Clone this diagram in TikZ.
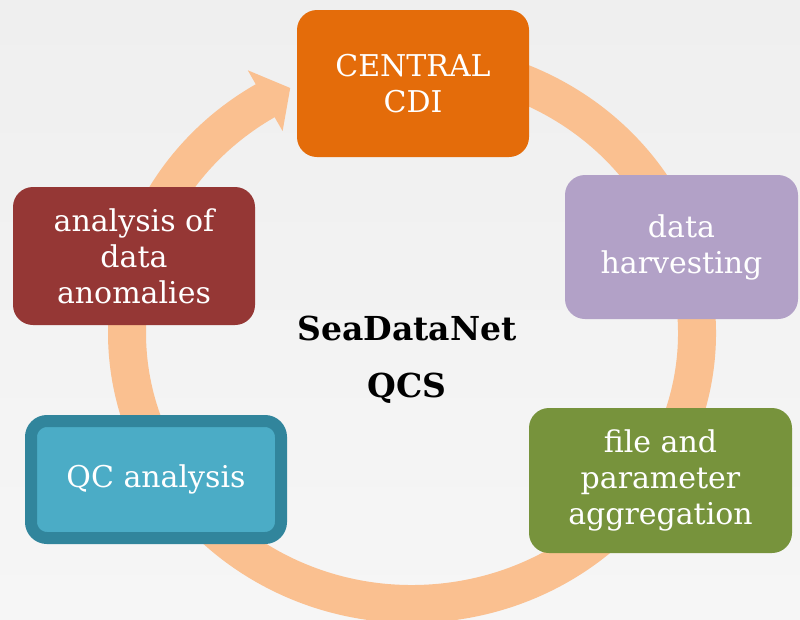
\documentclass[tikz,border=0pt]{standalone}
\usepackage{fontspec}
\setmainfont{DejaVu Serif}
\newfontfamily\titlefont{DejaVu Serif}
\definecolor{bgtop}{HTML}{EFEFEF}
\definecolor{bgbot}{HTML}{F6F6F6}
\definecolor{ringcol}{HTML}{FAC090}
\definecolor{cOrange}{HTML}{E46C0A}
\definecolor{cRed}{HTML}{953735}
\definecolor{cPurple}{HTML}{B2A1C7}
\definecolor{cGreen}{HTML}{77933C}
\definecolor{cBlue}{HTML}{4BACC6}
\definecolor{cBlueDark}{HTML}{31859C}
\begin{document}
\begin{tikzpicture}[x=1pt,y=-1pt,
  boxstyle/.style={rounded corners=20pt, inner sep=0pt, align=center,
    text=white, font=\fontsize{30}{36}\selectfont},
  ringline/.style={draw=ringcol, line width=38pt, line cap=butt}]
\useasboundingbox (0,0) rectangle (800,619);
\fill[top color=bgtop, bottom color=bgbot] (0,0) rectangle (800,619);
% ring
\coordinate (C) at (412,333);
\draw[ringline] (C) ++(-95:285 and 271) arc[start angle=-95, end angle=239.5, x radius=285, y radius=271];
\fill[ringcol] (247.8,70.3) -- (290.2,88) -- (282.6,131.1) -- cycle;
% boxes
\node[boxstyle, fill=cOrange, minimum width=232pt, minimum height=147pt] (central) at (413,83.5) {CENTRAL\\CDI};
\node[boxstyle, fill=cPurple, minimum width=233pt, minimum height=144pt] (harv) at (681.5,247) {data\\harvesting};
\node[boxstyle, fill=cGreen, minimum width=263pt, minimum height=145pt] (file) at (660.5,480.5) {file and\\parameter\\aggregation};
\node[boxstyle, fill=cBlue, draw=cBlueDark, line width=12pt, rounded corners=16pt, minimum width=250pt, minimum height=117pt] (qc) at (156,479.5) {QC analysis};
\node[boxstyle, fill=cRed, minimum width=242pt, minimum height=138pt] (anom) at (134,256) {analysis of\\data\\anomalies};
% title
\node[align=center, font=\titlefont\bfseries\fontsize{33}{57}\selectfont] (title) at (407,360) {SeaDataNet\\QCS};
\end{tikzpicture}
\end{document}
